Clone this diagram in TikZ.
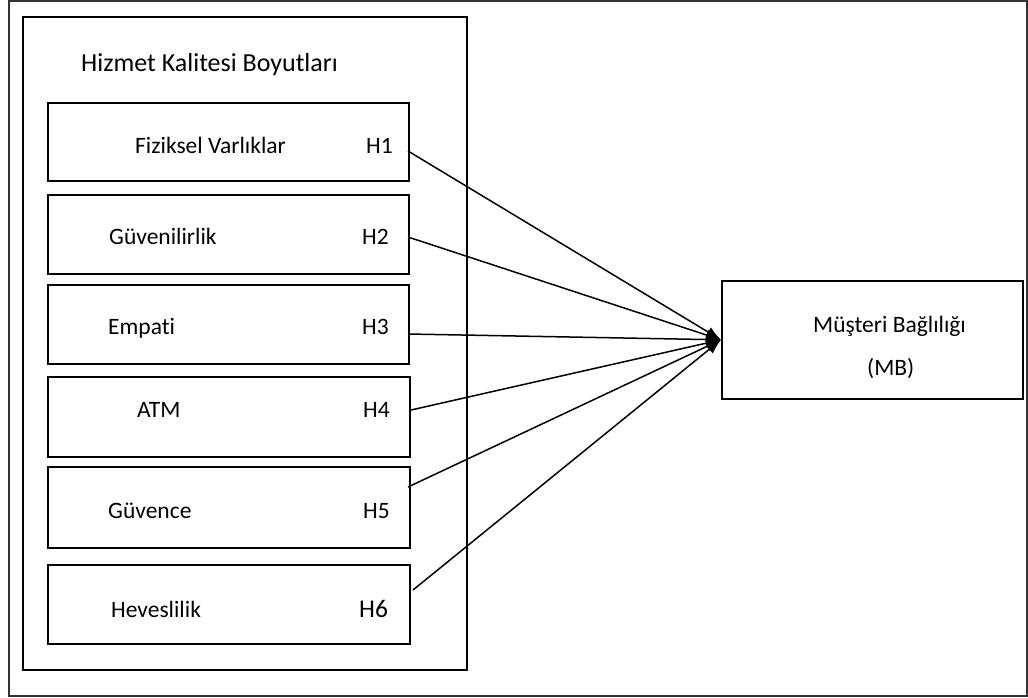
\documentclass[tikz,border=0pt]{standalone}
\usepackage{fontspec}
\setmainfont{Carlito}[RawFeature=-liga]
\usetikzlibrary{arrows.meta}
\begin{document}
\begin{tikzpicture}[x=1pt,y=-1pt,
  frame/.style={draw=black,line width=1.6pt},
  lbl/.style={anchor=base west,inner sep=0pt,font=\fontsize{23.5}{28}\selectfont},
  link/.style={line width=1.5pt,-{Latex[length=15pt,width=11pt]}}]
\useasboundingbox (0,0) rectangle (1028,697);
% outer frames
\draw[line width=1.1pt,draw=black!80] (9,1) rectangle (1027,696);
\draw[frame] (23,17) rectangle (467,670);
\node[lbl,font=\fontsize{26}{30}\selectfont] (title) at (81,71) {Hizmet Kalitesi Boyutları};
% dimension boxes
\node[frame,minimum width=361pt,minimum height=78pt,inner sep=0pt,anchor=north west] (b1) at (47,102) {};
\node[frame,minimum width=361pt,minimum height=79pt,inner sep=0pt,anchor=north west] (b2) at (47,194) {};
\node[frame,minimum width=361pt,minimum height=79pt,inner sep=0pt,anchor=north west] (b3) at (47,284) {};
\node[frame,minimum width=362pt,minimum height=80pt,inner sep=0pt,anchor=north west] (b4) at (47,376) {};
\node[frame,minimum width=362pt,minimum height=81pt,inner sep=0pt,anchor=north west] (b5) at (47,466) {};
\node[frame,minimum width=362pt,minimum height=79pt,inner sep=0pt,anchor=north west] (b6) at (47,564) {};
% labels
\node[lbl] (t1) at (135,153) {Fiziksel Varlıklar};
\node[lbl] (h1) at (366,153) {H1};
\node[lbl] (t2) at (109,244) {Güvenilirlik};
\node[lbl] (h2) at (362,244) {H2};
\node[lbl] (t3) at (108,334) {Empati};
\node[lbl] (h3) at (362,334) {H3};
\node[lbl] (t4) at (137,417) {ATM};
\node[lbl] (h4) at (363,417) {H4};
\node[lbl] (t5) at (108,518) {Güvence};
\node[lbl] (h5) at (363,518) {H5};
\node[lbl] (t6) at (111,617) {Heveslilik};
\node[lbl,font=\fontsize{25.5}{30}\selectfont] (h6) at (359,617) {H6};
% target box
\node[frame,minimum width=301pt,minimum height=118pt,inner sep=0pt,anchor=north west] (mb) at (721,280) {};
\node[lbl] (mbt) at (813,332) {Müşteri Bağlılığı};
\node[lbl] (mbs) at (867,375) {(MB)};
% start points
\coordinate (s1) at (408,151);
\coordinate (s2) at (408,237);
\coordinate (s3) at (408,334);
\coordinate (s4) at (411,410);
\coordinate (s5) at (408,487);
\coordinate (s6) at (413,590);
\foreach \i in {1,...,6} \draw[link] (s\i) -- (mb.west);
\end{tikzpicture}
\end{document}
